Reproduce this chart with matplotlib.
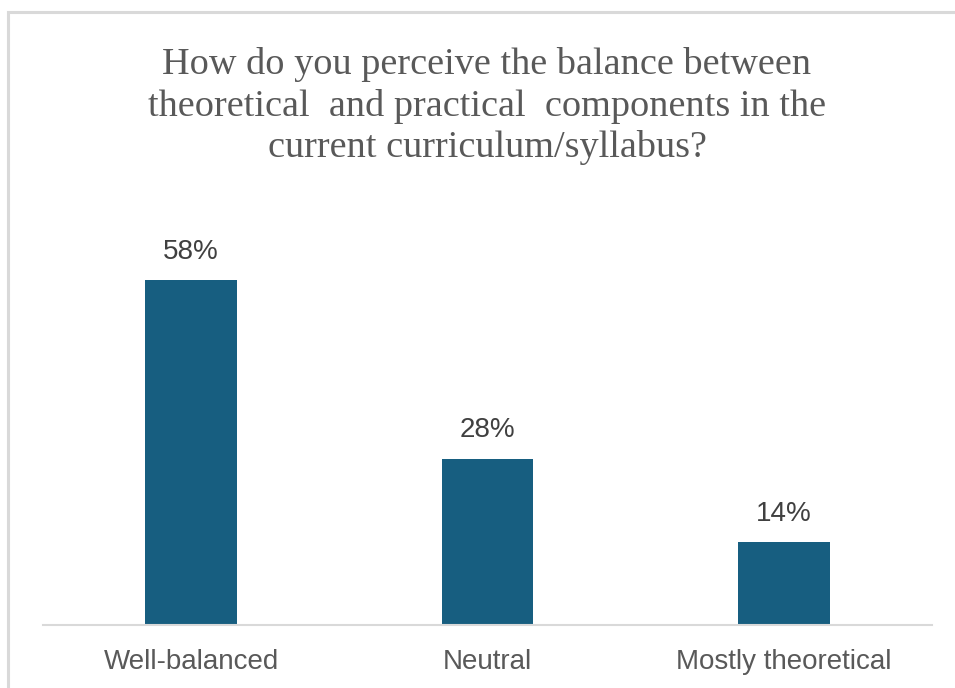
import matplotlib
matplotlib.use("Agg")
import matplotlib.pyplot as plt
from matplotlib.patches import Rectangle

categories = ["Well-balanced", "Neutral", "Mostly theoretical"]
values = [58, 28, 14]
value_labels = ["58%", "28%", "14%"]
title = "How do you perceive the balance between\ntheoretical  and practical  components in the\ncurrent curriculum/syllabus?"

W, H = 955, 688
fig = plt.figure(figsize=(W / 100, H / 100), dpi=100)

# outer chart border
fig.patches.append(Rectangle((8 / W, -0.2), 1.2, (H - 12) / H + 0.2, transform=fig.transFigure,
                             fill=False, edgecolor="#d9d9d9", linewidth=2.2, zorder=0))

left, right, bottom, top = 43, 932, 625, 209
ax = fig.add_axes([left / W, 1 - bottom / H, (right - left) / W, (bottom - top) / H])
x = list(range(len(categories)))
ax.bar(x, values, width=0.31, color="#175E80")
ax.set_xlim(-0.5, len(categories) - 0.5)
ax.set_ylim(0, 70)
for xi, v, lab in zip(x, values, value_labels):
    ax.annotate(lab, (xi, v), xytext=(0, 11), textcoords="offset points", ha="center",
                va="bottom", fontsize=20, color="#404040", family="Liberation Sans")
ax.set_xticks(x)
ax.set_xticklabels(categories, fontsize=20, color="#595959", family="Liberation Sans")
ax.tick_params(axis="x", length=0, pad=17.5)
ax.set_yticks([])
for s in ["top", "left", "right"]:
    ax.spines[s].set_visible(False)
ax.spines["bottom"].set_color("#d9d9d9")
ax.spines["bottom"].set_linewidth(1.5)

fig.text(487 / W, 1 - 106 / H, title, ha="center", va="center", fontsize=27.5,
         family="Liberation Serif", color="#595959", linespacing=1.23)

fig.savefig("out.png", dpi=100)
